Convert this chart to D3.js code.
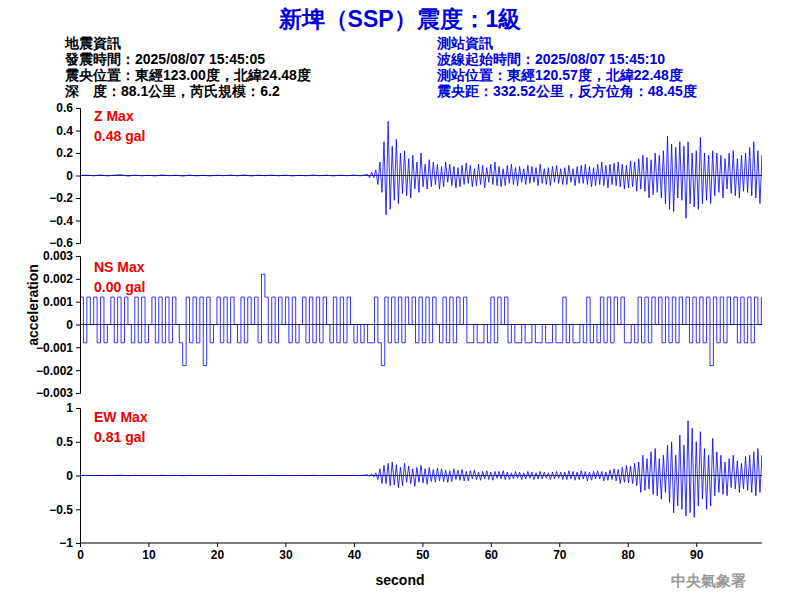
<!DOCTYPE html>
<html><head><meta charset="utf-8">
<script src="https://cdn.jsdelivr.net/npm/d3@7"></script>
<style>body{margin:0;background:#fff}</style>
</head><body>
<script>
// waveform samples (gal), pre-event noise at 1 s, event at 0.3 s from 42 s
const preT0 = 0, preStep = 1;
const zPre = [0,0.004,-0.003,0.005,-0.004,0.003,0.006,-0.005,0.004,-0.003,0.002,-0.004,0.005,-0.002,0.003,-0.005,0.004,-0.003,0.002,-0.004,0.003,-0.002,0.004,-0.003,0.005,-0.004,0.003,-0.002,0.004,-0.003,0.003,-0.004,0.002,-0.003,0.004,-0.002,0.003,-0.004,0.003,-0.002,0.004,-0.003];
const ewPre = zPre.map(v => v * 0.5);
const evT0 = 42, evStep = 0.3;
const zEvent = [0.01,-0.02,0.03,-0.02, 0.05,-0.08,0.12,-0.15, 0.3,-0.35,0.48,-0.3, 0.26,-0.22,0.32,-0.25,
  0.2,-0.16,0.22,-0.18, 0.15,-0.2,0.18,-0.12, 0.12,-0.15,0.2,-0.1, 0.1,-0.12,0.14,-0.1,
  0.12,-0.08,0.1,-0.12, 0.08,-0.1,0.12,-0.06, 0.1,-0.09,0.08,-0.11, 0.07,-0.1,0.09,-0.08,
  0.11,-0.07,0.09,-0.1, 0.06,-0.09,0.1,-0.08, 0.09,-0.11,0.07,-0.06, 0.1,-0.08,0.12,-0.09,
  0.08,-0.1,0.06,-0.09, 0.09,-0.07,0.1,-0.08, 0.07,-0.09,0.08,-0.06, 0.06,-0.08,0.09,-0.07,
  0.08,-0.06,0.07,-0.09, 0.1,-0.07,0.06,-0.08, 0.07,-0.09,0.08,-0.06, 0.09,-0.07,0.06,-0.08,
  0.07,-0.08,0.09,-0.06, 0.06,-0.09,0.08,-0.07, 0.09,-0.07,0.1,-0.08, 0.08,-0.1,0.07,-0.09,
  0.1,-0.08,0.12,-0.09, 0.09,-0.11,0.1,-0.08, 0.11,-0.09,0.12,-0.1, 0.1,-0.12,0.09,-0.11,
  0.13,-0.1,0.12,-0.14, 0.15,-0.12,0.18,-0.14, 0.16,-0.2,0.14,-0.17, 0.2,-0.15,0.18,-0.2,
  0.22,-0.25,0.35,-0.3, 0.28,-0.32,0.25,-0.2, 0.3,-0.22,0.26,-0.38, 0.3,-0.25,0.2,-0.28,
  0.22,-0.3,0.34,-0.25, 0.2,-0.22,0.18,-0.25, 0.22,-0.18,0.2,-0.15, 0.18,-0.2,0.15,-0.12,
  0.2,-0.16,0.22,-0.18, 0.15,-0.2,0.18,-0.14, 0.2,-0.15,0.25,-0.18, 0.3,-0.2,0.22,-0.25,
  0.18,-0.22,0.2,-0.15, 0.24,-0.2,0.35,-0.18, 0.22,-0.2,0.15,-0.22, 0.18,-0.2,0.28,-0.21];
const ewEvent = [0.01,-0.01,0.02,-0.02, 0.04,-0.06,0.1,-0.12, 0.15,-0.12,0.18,-0.15, 0.2,-0.14,0.16,-0.18,
  0.12,-0.15,0.18,-0.1, 0.14,-0.12,0.1,-0.16, 0.12,-0.1,0.15,-0.11, 0.1,-0.13,0.12,-0.09,
  0.09,-0.1,0.11,-0.08, 0.1,-0.09,0.08,-0.1, 0.07,-0.09,0.1,-0.06, 0.08,-0.07,0.09,-0.08,
  0.06,-0.08,0.07,-0.05, 0.08,-0.06,0.05,-0.07, 0.06,-0.05,0.07,-0.06, 0.05,-0.07,0.06,-0.04,
  0.06,-0.05,0.07,-0.06, 0.05,-0.06,0.04,-0.05, 0.06,-0.04,0.05,-0.06, 0.04,-0.05,0.06,-0.04,
  0.05,-0.06,0.04,-0.05, 0.06,-0.05,0.05,-0.04, 0.04,-0.06,0.05,-0.05, 0.06,-0.04,0.05,-0.06,
  0.05,-0.06,0.07,-0.05, 0.06,-0.07,0.05,-0.06, 0.07,-0.05,0.06,-0.08, 0.05,-0.07,0.06,-0.05,
  0.07,-0.05,0.06,-0.08, 0.05,-0.07,0.08,-0.06, 0.1,-0.08,0.09,-0.12, 0.12,-0.1,0.15,-0.11,
  0.14,-0.12,0.18,-0.15, 0.2,-0.25,0.3,-0.22, 0.25,-0.2,0.35,-0.28, 0.4,-0.3,0.25,-0.35,
  0.3,-0.25,0.45,-0.4, 0.5,-0.55,0.3,-0.45, 0.6,-0.5,0.45,-0.6, 0.81,-0.55,0.7,-0.62,
  0.5,-0.45,0.65,-0.35, 0.4,-0.5,0.3,-0.45, 0.55,-0.3,0.35,-0.25, 0.3,-0.28,0.2,-0.3,
  0.25,-0.18,0.3,-0.2, 0.22,-0.25,0.18,-0.2, 0.28,-0.22,0.3,-0.25, 0.35,-0.3,0.4,-0.25,
  0.3,-0.38,0.35,-0.28, 0.25,-0.3,0.32,-0.2];
// NS: quantised, 0.5 s samples from 0 s
const nsT0 = 0, nsStep = 0.5;
const nsCounts = [1,-1,1,0,1,-1,1,-1,0,1,-1,1,-1,1,0,-1,1,-1,1,-1,0,1,-1,1,-1,1,-1,1,0,-1,-2,1,-1,1,-1,1,-2,1,-1,0,
  1,-1,1,-1,1,0,-1,1,-1,1,0,1,-1,3,1,-1,1,-1,1,0,1,-1,1,-1,0,1,-1,1,-1,1,-1,1,0,-1,1,-1,1,-1,1,0,
  -1,0,-1,0,-1,-1,1,-1,-2,1,-1,1,-1,1,-1,1,0,1,-1,1,-1,1,-1,1,0,-1,1,-1,1,-1,1,0,1,-1,-1,0,-1,-1,0,-1,
  1,-1,1,0,1,-1,0,-1,-1,0,-1,-1,0,-1,-1,0,-1,-1,0,-1,-1,1,-1,0,-1,-1,0,-1,1,-1,0,-1,1,-1,1,-1,1,0,1,-1,
  -1,0,-1,1,-1,1,-1,1,0,1,-1,1,-1,1,-1,1,0,1,-1,1,-1,1,-1,1,-2,1,-1,1,-1,1,0,1,-1,1,-1,1,-1,1,0,1];
const nsLevels = {"3":0.0022,"1":0.0012,"0":0,"-1":-0.0008,"-2":-0.0018};

const zTicks = [-0.6,-0.4,-0.2,0,0.2,0.4,0.6];
const nsTicks = [-0.003,-0.002,-0.001,0,0.001,0.002,0.003];
const ewTicks = [-1,-0.5,0,0.5,1];
const xTicks = [0,10,20,30,40,50,60,70,80,90];

const build = (pre, t0p, sp, ev, t0e, se) =>
  pre.map((v,i)=>[t0p+i*sp,v]).concat(ev.map((v,i)=>[t0e+i*se,v]));
const zData = build(zPre, preT0, preStep, zEvent, evT0, evStep);
const ewData = build(ewPre, preT0, preStep, ewEvent, evT0, evStep);
const nsData = nsCounts.map((c,i)=>[nsT0+i*nsStep, nsLevels[c]]);

const svg = d3.select("body").append("svg").attr("width",800).attr("height",600)
  .style("font-family","Arial, 'Liberation Sans', sans-serif");
const x = d3.scaleLinear().domain([0,99.6]).range([80,762]);
svg.append("clipPath").attr("id","plot").append("rect").attr("x",80).attr("y",100).attr("width",682).attr("height",450);

svg.append("text").attr("x",400).attr("y",27).attr("text-anchor","middle")
  .attr("fill","#0000dd").attr("font-size",23).attr("font-weight","bold")
  .text("新埤（SSP）震度：1級");
const left = ["地震資訊","發震時間：2025/08/07 15:45:05","震央位置：東經123.00度，北緯24.48度","深　度：88.1公里，芮氏規模：6.2"];
const right = ["測站資訊","波線起始時間：2025/08/07 15:45:10","測站位置：東經120.57度，北緯22.48度","震央距：332.52公里，反方位角：48.45度"];
left.forEach((t,i)=>svg.append("text").attr("x",65).attr("y",48+i*16).attr("font-size",14).attr("font-weight","bold").attr("fill","#000").text(t));
right.forEach((t,i)=>svg.append("text").attr("x",437).attr("y",48+i*16).attr("font-size",14).attr("font-weight","bold").attr("fill","#0000dd").text(t));

const panels = [
  {data:zData, dom:[-0.6,0.6], r:[243,108], ticks:zTicks, label:"Z Max", val:"0.48 gal", ly:121, curve:d3.curveLinear},
  {data:nsData, dom:[-0.003,0.003], r:[393,256], ticks:nsTicks, label:"NS Max", val:"0.00 gal", ly:272, curve:d3.curveStepAfter},
  {data:ewData, dom:[-1,1], r:[543,408], ticks:ewTicks, label:"EW Max", val:"0.81 gal", ly:422, curve:d3.curveLinear}
];
panels.forEach(p=>{
  const y = d3.scaleLinear().domain(p.dom).range(p.r);
  svg.append("line").attr("x1",x(0)).attr("x2",x(99.6)).attr("y1",y(0)).attr("y2",y(0)).attr("stroke","#000").attr("stroke-width",0.8);
  svg.append("path").datum(p.data).attr("clip-path","url(#plot)").attr("fill","none").attr("stroke","#0000ff").attr("stroke-width",0.8)
    .attr("d", d3.line().curve(p.curve).x(d=>x(d[0])).y(d=>y(d[1])));
  const ax = svg.append("g").attr("transform","translate(80,0)")
    .call(d3.axisLeft(y).tickValues(p.ticks).tickSize(4).tickFormat(d=>d3.format("~g")(d)));
  ax.selectAll("text").attr("font-size",12).attr("font-weight","bold").attr("fill","#000").style("font-family","Arial, 'Liberation Sans', sans-serif");
  svg.append("text").attr("x",94).attr("y",p.ly).attr("fill","#ee0000").attr("font-size",14).attr("font-weight","bold").text(p.label);
  svg.append("text").attr("x",94).attr("y",p.ly+20).attr("fill","#ee0000").attr("font-size",14).attr("font-weight","bold").text(p.val);
});
const xa = svg.append("g").attr("transform","translate(0,543)")
  .call(d3.axisBottom(x).tickValues(xTicks).tickSize(4));
xa.select(".domain").attr("d","M80,0H762");
xa.selectAll("text").attr("font-size",12).attr("font-weight","bold").style("font-family","Arial, 'Liberation Sans', sans-serif");
svg.append("text").attr("x",400).attr("y",585).attr("text-anchor","middle").attr("font-size",14).attr("font-weight","bold").text("second");
svg.append("text").attr("transform","translate(38,305) rotate(-90)").attr("text-anchor","middle").attr("font-size",14).attr("font-weight","bold").text("acceleration");
svg.append("text").attr("x",746).attr("y",586).attr("text-anchor","end").attr("font-size",15).attr("font-weight","bold").attr("fill","#999").text("中央氣象署");
</script>
</body></html>
